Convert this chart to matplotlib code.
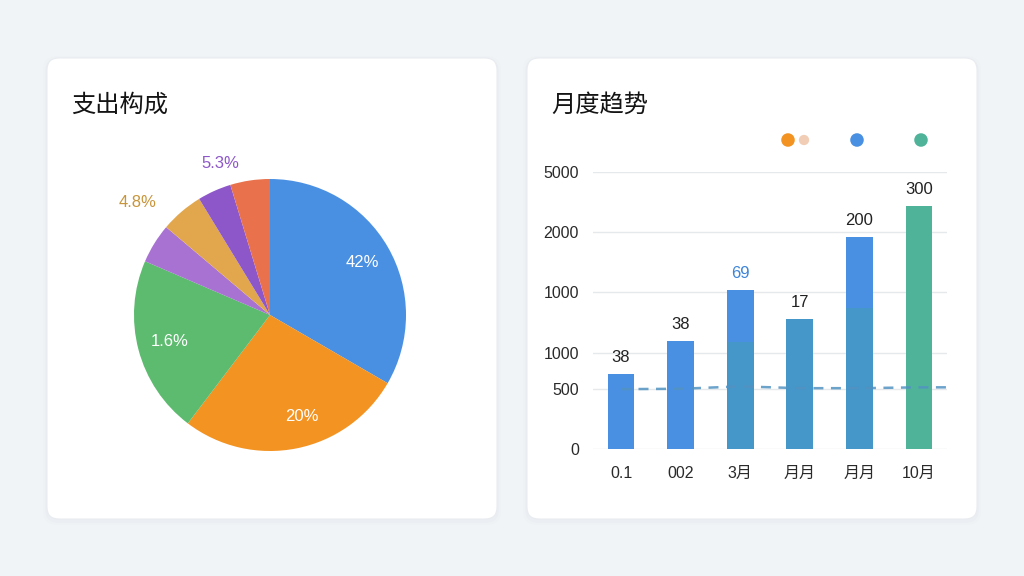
import matplotlib

matplotlib.use("Agg")
import matplotlib.pyplot as plt
from matplotlib.patches import FancyBboxPatch
import numpy as np

plt.rcParams["font.family"] = ["Liberation Sans", "Noto Sans CJK SC", "DejaVu Sans"]
CJK = ["Noto Sans CJK SC", "DejaVu Sans"]

W, H = 1024, 576

# pie: share of spending (degrees, as %)
pie_shares = [33.3, 26.9, 21.1, 4.7, 5.1, 4.0, 4.7]
pie_colors = ["#4a90e2", "#f39322", "#5cbb6e", "#a872d3", "#e2a64c", "#8d57c9", "#e9714b"]
pie_labels = ["42%", "20%", "1.6%", "", "4.8%", "5.3%", ""]
pie_label_colors = ["white", "white", "white", "", "#c8953a", "#8d57c9", ""]

# bars: monthly trend
months = ["0.1", "002", "3月", "月月", "月月", "10月"]
bar_base = [620, 900, 890, 1080, 1170, 2020]
bar_top = [0, 0, 430, 0, 590, 0]
base_colors = ["#4a90e2", "#4a90e2", "#4596c9", "#4596c9", "#4596c9", "#4fb39a"]
value_labels = ["38", "38", "69", "17", "200", "300"]
value_colors = ["#222222", "#222222", "#3d85d8", "#222222", "#222222", "#222222"]
trend = [497, 500, 520, 505, 505, 512]
ytick_pos = [0, 500, 800, 1300, 1800, 2300]
ytick_labels = ["0", "500", "1000", "1000", "2000", "5000"]
legend_colors = ["#f39322", "#f2cdb5", "#4a90e2", "#4fb39a"]


def px_rect(x0, y0, x1, y1):
    # pixel box (top-left origin) -> figure fraction rect
    return [x0 / W, 1 - y1 / H, (x1 - x0) / W, (y1 - y0) / H]


fig = plt.figure(figsize=(W / 100, H / 100), dpi=100)
fig.patch.set_facecolor("#f1f4f7")

bg = fig.add_axes([0, 0, 1, 1])
bg.set_xlim(0, W)
bg.set_ylim(H, 0)
bg.axis("off")
for x0 in (47, 527):
    for off, a in ((4, 0.025), (2, 0.03)):
        bg.add_patch(FancyBboxPatch((x0 - off, 58 - off + 2), 450 + 2 * off, 461 + 2 * off,
                                    boxstyle="round,pad=0,rounding_size=14",
                                    fc="#9aa8b8", ec="none", alpha=a))
    bg.add_patch(FancyBboxPatch((x0, 58), 450, 461, boxstyle="round,pad=0,rounding_size=12",
                                fc="white", ec="#e8ecf0", lw=0.8))
bg.text(71, 105, "支出构成", fontsize=17.5, color="#141414", va="center", ha="left", family=CJK)
bg.text(551, 105, "月度趋势", fontsize=17.5, color="#141414", va="center", ha="left", family=CJK)
for cx, c, s in zip([788, 804, 857, 921], legend_colors, [95, 55, 95, 95]):
    bg.scatter([cx], [140], s=s, color=c, edgecolors="none")

# --- pie
pax = fig.add_axes(px_rect(90, 135, 450, 495))
wedges, _ = pax.pie(pie_shares, colors=pie_colors, startangle=90, counterclock=False,
                    wedgeprops=dict(edgecolor="none"))
pax.set_xlim(-1.3235, 1.3235)
pax.set_ylim(-1.3235, 1.3235)
pax.set_aspect("equal")
pax.axis("off")
radii = [0.78, 0.78, 0.76, 0, 1.28, 1.17, 0]
shift = [0, 6, 0, 0, 9, -6, 0]
for w, lab, col, r, sh in zip(wedges, pie_labels, pie_label_colors, radii, shift):
    if not lab:
        continue
    ang = np.deg2rad((w.theta1 + w.theta2) / 2 + sh)
    pax.text(r * np.cos(ang), r * np.sin(ang), lab, ha="center", va="center",
             fontsize=12, color=col)

# --- bars
ax = fig.add_axes(px_rect(593, 172, 947, 449))
x = np.arange(len(months))
ax.bar(x, bar_base, width=0.45, color=base_colors, zorder=3)
ax.bar(x, bar_top, bottom=bar_base, width=0.45, color="#4a90e2", zorder=3)
ax.set_xlim(-0.47, 5.47)
ax.set_ylim(0, 2300)
tops = np.array(bar_base) + np.array(bar_top)
for xi, t, lab, col in zip(x, tops, value_labels, value_colors):
    ax.text(xi, t + 75, lab, ha="center", va="bottom", fontsize=12, color=col)
lx = list(x) + [ax.get_xlim()[1]]
ly = trend + [trend[-1]]
ax.plot(lx, ly, ls=(0, (4, 3)), color="#5293c2", lw=1.8, alpha=0.85, zorder=4)
ax.set_yticks(ytick_pos)
ax.set_yticklabels(ytick_labels)
ax.set_xticks(x)
ax.set_xticklabels(months)
ax.tick_params(length=0, labelsize=11.5, colors="#2a2a2a")
ax.tick_params(axis="y", pad=10)
ax.tick_params(axis="x", pad=12)
ax.grid(axis="y", color="#e6e9ec", lw=1, zorder=0)
for s in ax.spines.values():
    s.set_visible(False)

fig.savefig("out.png", dpi=100)
